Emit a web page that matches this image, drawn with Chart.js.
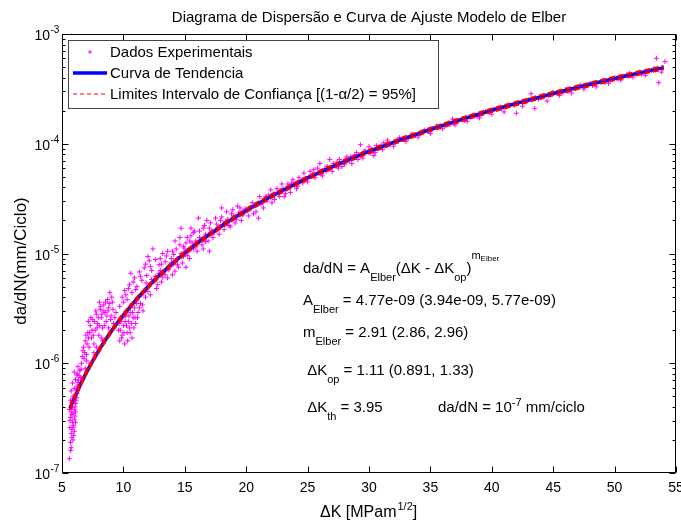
<!DOCTYPE html>
<html>
<head>
<meta charset="utf-8">
<title>Modelo de Elber</title>
<script src="https://cdn.jsdelivr.net/npm/chart.js@4.4.0/dist/chart.umd.min.js"></script>
<style>
  html, body { margin: 0; padding: 0; background: #fff; }
  #wrap { width: 681px; height: 523px; }
</style>
</head>
<body>
<div id="wrap"><canvas id="chart" width="681" height="523"></canvas></div>
<script>
// Elber crack growth model: scatter of test data + fitted curve + confidence bounds

// experimental points, dK [MPa m^1/2] vs da/dN [mm/ciclo]
const expK = [
  5.6, 5.7, 5.75, 5.65, 5.8, 5.85, 5.7, 5.9, 5.6, 5.95, 6.0, 5.8, 6.05, 5.9, 6.1, 5.75, 6.15, 6.0, 6.2, 5.85, 6.25, 6.1, 6.3, 6.2, 6.35, 6.4, 6.0, 6.45, 6.5, 6.3, 5.95, 5.65,
  6.6, 6.7, 6.8, 6.9, 7.0, 7.1, 7.2, 7.3, 7.4, 7.5, 7.6, 7.7, 7.8, 7.9, 8.0, 8.1, 8.2, 8.3, 8.4, 8.5, 8.6, 8.7, 8.8, 8.9, 9.0, 9.1, 9.2, 6.9, 7.3, 7.8, 8.3, 6.75, 7.15, 8.05,
  9.6, 9.7, 9.8, 9.9, 10.0, 10.1, 10.2, 10.3, 10.4, 10.5, 10.6, 10.7, 10.8, 10.9, 11.0, 11.2, 11.4, 11.6, 11.8, 9.7, 9.9, 10.1, 10.3, 10.5, 10.7, 10.9, 11.1, 11.3, 11.5, 11.7, 11.9, 12.1, 12.3, 12.4, 10.6,
  12.2, 12.5, 12.7, 12.9, 13.1, 13.3, 13.5, 13.6, 13.8, 14.0, 14.2, 14.4, 14.6, 14.8, 15.0, 15.2, 15.4, 15.6, 15.8, 16.0, 16.3, 16.6, 16.9, 17.2, 17.5, 17.8, 18.1, 18.4, 18.7, 19.0, 19.3, 19.6, 19.9, 13.2, 14.7, 16.1, 15.1, 17.0,
  20.2, 20.5, 20.8, 21.1, 21.4, 21.7, 22.0, 22.3, 22.6, 22.9, 23.2, 23.5, 23.8, 24.1, 24.4, 24.7, 25.0, 25.4, 25.8, 26.2, 26.6, 27.0, 27.4, 27.8, 28.2, 28.6, 29.0, 29.5, 30.0, 30.5, 31.0, 31.5, 32.0, 26.8, 29.3,
  32.5, 33.0, 33.5, 34.0, 34.5, 35.0, 35.5, 36.0, 36.5, 37.0, 37.5, 38.0, 38.5, 39.0, 39.5, 40.0, 40.5, 41.0, 41.5, 42.0, 42.5, 43.0, 43.5, 44.0, 44.5, 45.0, 45.5, 46.0, 46.5, 47.0, 47.5, 48.0, 48.5, 49.0, 49.5, 50.0, 50.5, 51.0, 51.5, 52.0, 52.5, 53.0, 53.4, 53.6, 54.1, 53.8, 43.2, 36.8,
  5.7, 5.8, 5.9, 6.0, 5.75, 6.05, 5.85, 6.1, 5.95, 6.2, 5.7, 6.15, 6.3, 6.4, 6.25, 5.8, 6.0, 5.9, 6.1, 5.75,
  6.55, 6.65, 6.75, 6.85, 6.95, 7.05, 7.15, 7.25, 7.35, 7.45, 7.55, 7.65, 7.75, 7.85, 7.95, 8.05, 8.15, 8.25, 8.35, 8.45, 8.55, 8.65, 8.75, 8.85, 8.95, 9.05, 9.15, 9.3, 9.4, 7.0, 7.6, 8.2, 8.8,
  9.65, 9.75, 9.85, 9.95, 10.05, 10.15, 10.25, 10.35, 10.45, 10.55, 10.65, 10.75, 10.85, 10.95, 11.05, 11.15, 11.3, 11.45, 11.55, 11.75, 11.85, 12.0, 10.0, 10.2, 10.4, 10.8, 11.0, 11.4, 11.8, 12.2, 12.0,
  12.6, 12.8, 13.0, 13.2, 13.4, 13.7, 13.9, 14.1, 14.3, 14.5, 14.7, 14.9, 15.1, 15.3, 15.5, 15.7, 15.9, 16.2, 16.4, 16.7, 17.0, 17.3, 17.6, 17.9, 18.2, 18.5, 18.8, 19.1, 19.4, 19.7, 13.0, 14.2, 15.5, 16.8, 18.0, 14.0, 16.5,
  20.4, 20.9, 21.3, 21.8, 22.2, 22.7, 23.0, 23.4, 23.9, 24.3, 24.8, 25.2, 25.6, 26.0, 26.4, 27.2, 27.6, 28.0, 28.4, 28.8, 29.7, 30.2, 30.7, 31.2, 31.7, 21.0, 23.6, 26.0, 30.4,
  33.2, 34.2, 35.2, 36.2, 37.2, 38.2, 39.2, 40.2, 41.2, 42.2, 44.2, 46.2, 47.2, 48.2, 49.2, 50.2, 51.2, 52.2, 53.2,
  12.3, 12.6, 12.9, 13.1, 13.4, 13.6, 13.9, 14.1, 14.4, 14.6, 14.9, 15.2, 15.4, 15.7, 15.9, 16.2, 16.5, 16.7, 17.1, 17.4, 17.7, 18.0, 18.3, 18.6, 18.9, 19.2, 19.5, 19.8,
  20.1, 20.6, 21.2, 21.6, 22.1, 22.5, 23.1, 23.7, 24.2, 24.6, 25.1, 25.5, 26.1, 26.5, 27.1, 27.5, 28.1, 28.5, 29.1, 29.6, 30.1, 30.6, 31.1, 31.6,
  32.8, 33.8, 34.8, 35.8, 36.6, 37.8, 38.8, 39.8, 40.8, 41.8, 42.8, 43.8, 44.8, 45.8, 46.8, 47.8
];
const expRate = [
  1.35e-7, 1.9e-7, 2.3e-7, 2.6e-7, 2.1e-7, 2.9e-7, 3.2e-7, 3.5e-7, 3.8e-7, 2.7e-7, 3.1e-7, 4.4e-7, 4.0e-7, 5.0e-7, 3.6e-7, 5.6e-7, 4.6e-7, 5.9e-7, 5.3e-7, 6.6e-7, 6.2e-7, 7.1e-7, 5.7e-7, 7.8e-7, 7.0e-7, 6.4e-7, 8.3e-7, 8.6e-7, 7.4e-7, 9.3e-7, 2.2e-7, 3.0e-7,
  1.0e-6, 1.3e-6, 1.1e-6, 1.6e-6, 1.2e-6, 1.9e-6, 1.4e-6, 2.2e-6, 1.7e-6, 2.5e-6, 1.5e-6, 2.0e-6, 2.8e-6, 2.3e-6, 1.8e-6, 3.1e-6, 2.6e-6, 2.1e-6, 3.4e-6, 2.9e-6, 2.4e-6, 3.8e-6, 3.2e-6, 4.4e-6, 2.7e-6, 3.6e-6, 2.3e-6, 9.0e-7, 1.0e-6, 1.4e-6, 1.6e-6, 7.5e-7, 2.4e-6, 3.6e-6,
  2.0e-6, 1.6e-6, 2.4e-6, 1.8e-6, 2.2e-6, 1.5e-6, 2.7e-6, 1.9e-6, 2.4e-6, 2.1e-6, 2.9e-6, 1.7e-6, 2.6e-6, 3.2e-6, 2.3e-6, 2.9e-6, 3.5e-6, 3.0e-6, 4.0e-6, 3.3e-6, 4.0e-6, 4.6e-6, 3.8e-6, 5.2e-6, 4.4e-6, 6.0e-6, 5.0e-6, 6.8e-6, 5.7e-6, 7.4e-6, 6.3e-6, 8.6e-6, 7.0e-6, 1.1e-5, 6.6e-6,
  4.2e-6, 5.6e-6, 4.8e-6, 7.9e-6, 5.5e-6, 6.8e-6, 9.5e-6, 6.0e-6, 7.6e-6, 1.05e-5, 6.9e-6, 9.0e-6, 1.2e-5, 8.2e-6, 1.1e-5, 1.4e-5, 9.0e-6, 1.25e-5, 1.6e-5, 1.05e-5, 1.35e-5, 1.8e-5, 1.3e-5, 1.6e-5, 2.1e-5, 1.5e-5, 1.85e-5, 2.4e-5, 1.75e-5, 2.2e-5, 2.7e-5, 2.0e-5, 2.55e-5, 1.0e-5, 1.7e-5, 2.1e-5, 7.5e-6, 1.05e-5,
  2.2e-5, 2.9e-5, 2.4e-5, 3.3e-5, 2.6e-5, 3.0e-5, 3.8e-5, 3.1e-5, 3.6e-5, 4.3e-5, 3.5e-5, 4.0e-5, 4.7e-5, 3.9e-5, 4.5e-5, 5.4e-5, 4.5e-5, 5.2e-5, 6.0e-5, 5.1e-5, 6.2e-5, 5.6e-5, 6.8e-5, 6.2e-5, 7.6e-5, 6.6e-5, 8.3e-5, 7.4e-5, 9.4e-5, 8.3e-5, 9.6e-5, 1.08e-4, 9.5e-5, 7.2e-5, 9.8e-5,
  1.14e-4, 1.05e-4, 1.22e-4, 1.15e-4, 1.33e-4, 1.24e-4, 1.45e-4, 1.37e-4, 1.55e-4, 1.48e-4, 1.66e-4, 1.60e-4, 1.82e-4, 1.72e-4, 1.97e-4, 1.86e-4, 2.12e-4, 1.95e-4, 2.25e-4, 1.90e-4, 2.20e-4, 2.52e-4, 2.10e-4, 2.62e-4, 2.45e-4, 2.95e-4, 2.75e-4, 3.10e-4, 2.90e-4, 3.30e-4, 3.15e-4, 3.55e-4, 3.30e-4, 3.75e-4, 3.55e-4, 4.00e-4, 3.80e-4, 4.25e-4, 4.05e-4, 4.50e-4, 4.20e-4, 4.65e-4, 6.0e-4, 3.6e-4, 5.6e-4, 4.5e-4, 2.85e-4, 1.68e-4,
  1.6e-7, 2.5e-7, 2.0e-7, 2.4e-7, 3.6e-7, 3.3e-7, 4.0e-7, 4.3e-7, 4.8e-7, 4.9e-7, 4.6e-7, 5.8e-7, 6.7e-7, 7.7e-7, 8.0e-7, 3.4e-7, 3.8e-7, 2.6e-7, 2.9e-7, 1.7e-7,
  8.8e-7, 1.15e-6, 1.4e-6, 1.25e-6, 1.8e-6, 1.5e-6, 1.7e-6, 1.9e-6, 2.6e-6, 2.0e-6, 1.8e-6, 2.4e-6, 3.0e-6, 2.1e-6, 2.6e-6, 2.2e-6, 3.3e-6, 2.8e-6, 3.0e-6, 2.2e-6, 3.6e-6, 2.7e-6, 3.0e-6, 3.5e-6, 2.5e-6, 4.0e-6, 3.1e-6, 2.6e-6, 2.9e-6, 1.05e-6, 1.25e-6, 1.7e-6, 2.1e-6,
  2.3e-6, 2.0e-6, 1.7e-6, 2.6e-6, 1.9e-6, 2.4e-6, 2.2e-6, 1.6e-6, 2.7e-6, 1.9e-6, 2.3e-6, 2.9e-6, 2.1e-6, 2.6e-6, 3.5e-6, 2.6e-6, 3.2e-6, 4.2e-6, 3.4e-6, 4.6e-6, 5.4e-6, 4.5e-6, 3.6e-6, 4.2e-6, 4.8e-6, 5.5e-6, 4.7e-6, 6.2e-6, 8.0e-6, 7.6e-6, 9.4e-6,
  6.2e-6, 5.2e-6, 7.0e-6, 6.1e-6, 8.4e-6, 7.1e-6, 9.0e-6, 8.0e-6, 1.1e-5, 7.5e-6, 1.0e-5, 9.4e-6, 1.25e-5, 1.05e-5, 1.45e-5, 1.1e-5, 1.3e-5, 1.6e-5, 1.2e-5, 1.5e-5, 1.7e-5, 1.4e-5, 1.85e-5, 2.0e-5, 1.65e-5, 2.05e-5, 2.3e-5, 1.9e-5, 2.35e-5, 2.25e-5, 9.0e-6, 1.3e-5, 1.7e-5, 2.0e-5, 2.6e-5, 6.4e-6, 1.1e-5,
  2.6e-5, 2.8e-5, 3.0e-5, 3.4e-5, 3.5e-5, 3.3e-5, 3.9e-5, 4.3e-5, 4.2e-5, 4.9e-5, 4.7e-5, 5.6e-5, 4.9e-5, 5.6e-5, 5.9e-5, 6.3e-5, 7.2e-5, 6.5e-5, 7.0e-5, 7.9e-5, 8.6e-5, 8.8e-5, 9.2e-5, 1.02e-4, 9.9e-5, 2.1e-5, 3.6e-5, 6.6e-5, 7.8e-5,
  1.12e-4, 1.25e-4, 1.38e-4, 1.47e-4, 1.58e-4, 1.76e-4, 1.88e-4, 2.05e-4, 2.18e-4, 2.38e-4, 2.74e-4, 2.98e-4, 3.42e-4, 3.40e-4, 3.62e-4, 3.86e-4, 4.38e-4, 4.30e-4, 4.80e-4,
  5.8e-6, 8.8e-6, 6.6e-6, 8.0e-6, 6.4e-6, 1.05e-5, 8.2e-6, 9.8e-6, 7.9e-6, 1.4e-5, 1.15e-5, 9.6e-6, 1.3e-5, 1.55e-5, 1.15e-5, 1.4e-5, 1.7e-5, 1.28e-5, 1.9e-5, 1.55e-5, 1.7e-5, 2.15e-5, 1.95e-5, 1.8e-5, 2.5e-5, 2.05e-5, 2.6e-5, 2.3e-5,
  2.45e-5, 2.3e-5, 2.8e-5, 3.3e-5, 2.9e-5, 3.9e-5, 3.3e-5, 4.4e-5, 4.1e-5, 4.4e-5, 5.0e-5, 5.8e-5, 5.3e-5, 5.6e-5, 6.6e-5, 6.0e-5, 7.1e-5, 7.6e-5, 7.2e-5, 8.5e-5, 8.2e-5, 9.6e-5, 8.9e-5, 9.9e-5,
  1.09e-4, 1.20e-4, 1.30e-4, 1.44e-4, 1.50e-4, 1.63e-4, 1.77e-4, 1.95e-4, 2.08e-4, 2.26e-4, 2.40e-4, 2.55e-4, 2.80e-4, 2.92e-4, 3.20e-4, 3.38e-4
];

// fitted curve and 95% bounds
const fitK = [5.65, 6, 6.5, 7, 7.5, 8, 8.5, 9, 9.5, 10, 11, 12, 13, 14, 15, 16, 17, 18, 19, 20, 22, 25, 28, 30, 32, 35, 38, 40, 42, 45, 48, 50, 52, 54];
const fitRate = [3.9e-7, 4.8e-7, 6.4e-7, 8.3e-7, 1.05e-6, 1.31e-6, 1.61e-6, 1.95e-6, 2.33e-6, 2.75e-6, 3.75e-6, 4.97e-6, 6.42e-6, 8.12e-6, 1.01e-5, 1.24e-5, 1.49e-5, 1.78e-5, 2.11e-5, 2.47e-5, 3.31e-5, 4.89e-5, 6.90e-5, 8.5e-5, 1.03e-4, 1.35e-4, 1.73e-4, 2.02e-4, 2.33e-4, 2.87e-4, 3.48e-4, 3.93e-4, 4.42e-4, 4.94e-4];
const ciUpper = [4.04e-7, 4.97e-7, 6.62e-7, 8.59e-7, 1.087e-6, 1.356e-6, 1.666e-6, 2.02e-6, 2.41e-6, 2.85e-6, 3.88e-6, 5.14e-6, 6.64e-6, 8.40e-6, 1.045e-5, 1.283e-5, 1.542e-5, 1.842e-5, 2.18e-5, 2.556e-5, 3.43e-5, 5.06e-5, 7.14e-5, 8.80e-5, 1.066e-4, 1.397e-4, 1.79e-4, 2.09e-4, 2.41e-4, 2.97e-4, 3.60e-4, 4.07e-4, 4.57e-4, 5.11e-4];
const ciLower = [3.76e-7, 4.63e-7, 6.18e-7, 8.01e-7, 1.013e-6, 1.264e-6, 1.554e-6, 1.88e-6, 2.25e-6, 2.65e-6, 3.62e-6, 4.80e-6, 6.20e-6, 7.84e-6, 9.75e-6, 1.197e-5, 1.438e-5, 1.718e-5, 2.04e-5, 2.384e-5, 3.19e-5, 4.72e-5, 6.66e-5, 8.20e-5, 9.94e-5, 1.303e-4, 1.67e-4, 1.95e-4, 2.25e-4, 2.77e-4, 3.36e-4, 3.79e-4, 4.27e-4, 4.77e-4];

// axes
const xTicks = [5, 10, 15, 20, 25, 30, 35, 40, 45, 50, 55];
const yDecades = [1e-3, 1e-4, 1e-5, 1e-6, 1e-7];
const yDecadeExp = ['-3', '-4', '-5', '-6', '-7'];

const titleText = 'Diagrama de Dispersão e Curva de Ajuste Modelo de Elber';
const legendLabels = ['Dados Experimentais', 'Curva de Tendencia', 'Limites Intervalo de Confiança [(1-α/2) = 95%]'];

// fit parameters text block, [text, style] pieces
const annotLines = [
  { x: 303, y: 273, parts: [['da/dN = A', 'n'], ['Elber', 'sub'], ['(ΔK - ΔK', 'n'], ['op', 'sub'], [')', 'n'], ['m', 'supm'], ['Elber', 'supsub']] },
  { x: 303, y: 305, parts: [['A', 'n'], ['Elber', 'sub'], [' = 4.77e-09 (3.94e-09, 5.77e-09)', 'n']] },
  { x: 303, y: 337, parts: [['m', 'n'], ['Elber', 'sub'], [' = 2.91 (2.86, 2.96)', 'n']] },
  { x: 303, y: 375, parts: [[' ΔK', 'n'], ['op', 'sub'], [' = 1.11 (0.891, 1.33)', 'n']] },
  { x: 303, y: 412, parts: [[' ΔK', 'n'], ['th', 'sub'], [' = 3.95', 'n']] },
  { x: 438, y: 412, parts: [['da/dN = 10', 'n'], ['-7', 'sup'], [' mm/ciclo', 'n']] }
];

const FONT = '"Liberation Sans", Arial, Helvetica, sans-serif';
const font = px => px + 'px ' + FONT;

const STYLES = {
  n:      { size: 15, dy: 0 },
  sub:    { size: 11, dy: 8 },
  sup:    { size: 11, dy: -6 },
  supm:   { size: 11, dy: -14 },
  supsub: { size: 8,  dy: -12 }
};

function richText(ctx, x, y, parts){
  parts.forEach(([t, k]) => {
    const st = STYLES[k];
    ctx.font = font(st.size);
    ctx.fillText(t, x, y + st.dy);
    x += ctx.measureText(t).width;
  });
  return x;
}

const toPts = (xs, ys) => xs.map((v, i) => ({ x: v, y: ys[i] }));

// matlab-like frame, inward ticks, labels, legend box and text
const matlabFrame = {
  id: 'matlabFrame',
  afterDatasetsDraw(chart){
    const { ctx, chartArea: a, scales: { x, y } } = chart;
    ctx.save();
    ctx.strokeStyle = '#000';
    ctx.lineWidth = 1;
    const L = Math.round(a.left) + 0.5, R = Math.round(a.right) - 0.5;
    const T = Math.round(a.top) + 0.5, B = Math.round(a.bottom) - 0.5;
    ctx.strokeRect(L, T, R - L, B - T);

    ctx.beginPath();
    xTicks.forEach(v => {
      const px = Math.round(x.getPixelForValue(v)) + 0.5;
      ctx.moveTo(px, B); ctx.lineTo(px, B - 6);
      ctx.moveTo(px, T); ctx.lineTo(px, T + 6);
    });
    yDecades.forEach(d => {
      const py = Math.round(y.getPixelForValue(d)) + 0.5;
      ctx.moveTo(L, py); ctx.lineTo(L + 6, py);
      ctx.moveTo(R, py); ctx.lineTo(R - 6, py);
      if (d < 1e-3) {
        for (let m = 2; m <= 9; m++) {
          const pm = Math.round(y.getPixelForValue(d * m)) + 0.5;
          ctx.moveTo(L, pm); ctx.lineTo(L + 3, pm);
          ctx.moveTo(R, pm); ctx.lineTo(R - 3, pm);
        }
      }
    });
    ctx.stroke();

    ctx.fillStyle = '#000';
    // x tick labels
    ctx.font = font(14);
    ctx.textAlign = 'center';
    ctx.textBaseline = 'alphabetic';
    xTicks.forEach(v => ctx.fillText(String(v), x.getPixelForValue(v), 492));
    // y tick labels 10^n
    yDecades.forEach((d, i) => {
      const py = y.getPixelForValue(d);
      ctx.font = font(14);
      ctx.textAlign = 'right';
      ctx.fillText('10', 50, py + 6);
      ctx.font = font(10);
      ctx.textAlign = 'left';
      ctx.fillText(yDecadeExp[i], 50.5, py - 1);
    });

    // title
    ctx.font = font(15);
    ctx.textAlign = 'center';
    ctx.fillText(titleText, (a.left + a.right) / 2, 22);

    // x axis title
    ctx.textAlign = 'left';
    let xx = 320;
    ctx.font = font(16);
    ctx.fillText('ΔK [MPam', xx, 517);
    xx += ctx.measureText('ΔK [MPam').width;
    ctx.font = font(11);
    ctx.fillText('1/2', xx + 1, 510);
    xx += ctx.measureText('1/2').width + 1;
    ctx.font = font(16);
    ctx.fillText(']', xx, 517);

    // y axis title
    ctx.save();
    ctx.translate(21, 261);
    ctx.rotate(-Math.PI / 2);
    ctx.font = font(17);
    ctx.textAlign = 'center';
    ctx.textBaseline = 'middle';
    ctx.fillText('da/dN(mm/Ciclo)', 0, 0);
    ctx.restore();

    // legend
    const lx = 68, ly = 40, lw = 370, lh = 68;
    ctx.fillStyle = '#fff';
    ctx.fillRect(lx, ly, lw, lh);
    ctx.strokeStyle = '#444';
    ctx.strokeRect(lx + 0.5, ly + 0.5, lw, lh);
    const rows = [52, 73, 94];
    const ds = chart.data.datasets;
    // marker sample
    ctx.strokeStyle = ds[3].borderColor;
    ctx.lineWidth = 1;
    ctx.beginPath();
    ctx.moveTo(88, rows[0]); ctx.lineTo(92, rows[0]);
    ctx.moveTo(90, rows[0] - 2); ctx.lineTo(90, rows[0] + 2);
    ctx.stroke();
    // line samples
    ctx.strokeStyle = ds[2].borderColor;
    ctx.lineWidth = ds[2].borderWidth;
    ctx.beginPath(); ctx.moveTo(73, rows[1]); ctx.lineTo(107, rows[1]); ctx.stroke();
    ctx.strokeStyle = ds[0].borderColor;
    ctx.lineWidth = 1;
    ctx.setLineDash([4, 3]);
    ctx.beginPath(); ctx.moveTo(73, rows[2]); ctx.lineTo(107, rows[2]); ctx.stroke();
    ctx.setLineDash([]);
    ctx.fillStyle = '#000';
    ctx.font = font(15);
    ctx.textAlign = 'left';
    ctx.textBaseline = 'middle';
    legendLabels.forEach((t, i) => ctx.fillText(t, 110, rows[i] + 1));

    // fit parameters
    ctx.textBaseline = 'alphabetic';
    annotLines.forEach(l => richText(ctx, l.x, l.y, l.parts));
    ctx.restore();
  }
};

new Chart(document.getElementById('chart'), {
  type: 'scatter',
  data: {
    datasets: [
      { label: legendLabels[2], data: toPts(fitK, ciUpper), showLine: true, borderColor: '#ff0000', borderWidth: 2.2, borderDash: [6, 3], pointRadius: 0, order: 1 },
      { label: legendLabels[2], data: toPts(fitK, ciLower), showLine: true, borderColor: '#ff0000', borderWidth: 2.2, borderDash: [6, 3], pointRadius: 0, order: 1 },
      { label: legendLabels[1], data: toPts(fitK, fitRate), showLine: true, borderColor: '#0000ff', borderWidth: 3.5, pointRadius: 0, order: 2 },
      { label: legendLabels[0], data: toPts(expK, expRate), pointStyle: 'cross', pointRadius: 2.5, borderColor: '#ff00ff', backgroundColor: '#ff00ff', borderWidth: 1, order: 3 }
    ]
  },
  options: {
    responsive: false,
    animation: false,
    layout: { padding: { left: 62, top: 34, right: 3, bottom: 50 } },
    plugins: { legend: { display: false }, tooltip: { enabled: false }, title: { display: false } },
    scales: {
      x: { type: 'linear', min: 5, max: 55, ticks: { display: false }, grid: { display: false }, border: { display: false }, afterFit(s){ s.height = 0; } },
      y: { type: 'logarithmic', min: 1e-7, max: 1e-3, ticks: { display: false }, grid: { display: false }, border: { display: false }, afterFit(s){ s.width = 0; } }
    }
  },
  plugins: [matlabFrame]
});
</script>
</body>
</html>
